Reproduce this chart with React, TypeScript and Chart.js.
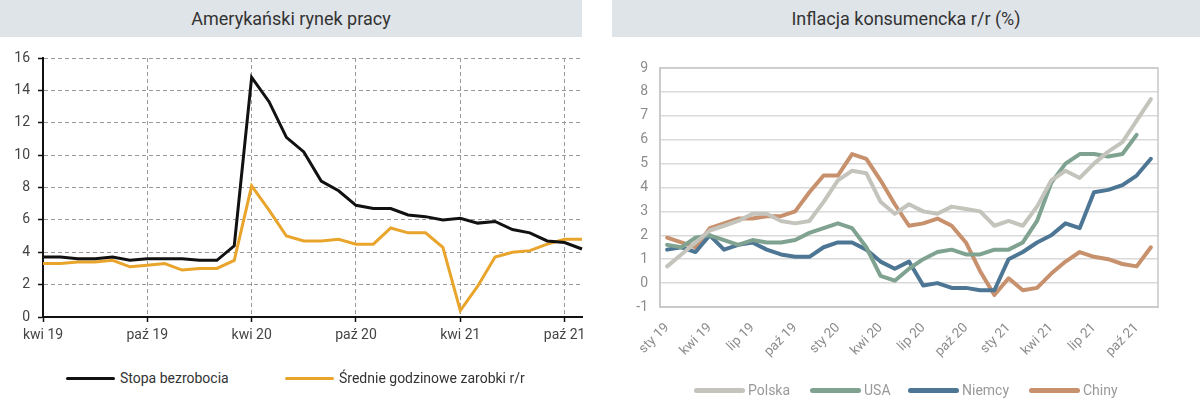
import React, { useEffect, useRef } from "react";
import { Chart, registerables } from "chart.js";

Chart.register(...registerables);

// ---------- Left chart data (Apr 2019 – Nov 2021) ----------
const leftLabels = [
  "kwi 19", "maj 19", "cze 19", "lip 19", "sie 19", "wrz 19", "paź 19", "lis 19", "gru 19",
  "sty 20", "lut 20", "mar 20", "kwi 20", "maj 20", "cze 20", "lip 20", "sie 20", "wrz 20",
  "paź 20", "lis 20", "gru 20", "sty 21", "lut 21", "mar 21", "kwi 21", "maj 21", "cze 21",
  "lip 21", "sie 21", "wrz 21", "paź 21", "lis 21",
];
const unemployment = [
  3.7, 3.7, 3.6, 3.6, 3.7, 3.5, 3.6, 3.6, 3.6, 3.5, 3.5, 4.4, 14.8, 13.3, 11.1, 10.2, 8.4, 7.8,
  6.9, 6.7, 6.7, 6.3, 6.2, 6.0, 6.1, 5.8, 5.9, 5.4, 5.2, 4.7, 4.6, 4.2,
];
const earnings = [
  3.3, 3.3, 3.4, 3.4, 3.5, 3.1, 3.2, 3.3, 2.9, 3.0, 3.0, 3.5, 8.1, 6.6, 5.0, 4.7, 4.7, 4.8,
  4.5, 4.5, 5.5, 5.2, 5.2, 4.3, 0.4, 1.9, 3.7, 4.0, 4.1, 4.5, 4.8, 4.8,
];
const leftTitle = "Amerykański rynek pracy";
const leftSeriesNames = ["Stopa bezrobocia", "Średnie godzinowe zarobki r/r"];

// ---------- Right chart data (Jan 2019 – Nov 2021) ----------
const rightLabels = [
  "sty 19", "lut 19", "mar 19", "kwi 19", "maj 19", "cze 19", "lip 19", "sie 19", "wrz 19",
  "paź 19", "lis 19", "gru 19", "sty 20", "lut 20", "mar 20", "kwi 20", "maj 20", "cze 20",
  "lip 20", "sie 20", "wrz 20", "paź 20", "lis 20", "gru 20", "sty 21", "lut 21", "mar 21",
  "kwi 21", "maj 21", "cze 21", "lip 21", "sie 21", "wrz 21", "paź 21", "lis 21",
];
const polska = [
  0.7, 1.2, 1.7, 2.2, 2.4, 2.6, 2.9, 2.9, 2.6, 2.5, 2.6, 3.4, 4.3, 4.7, 4.6, 3.4, 2.9, 3.3,
  3.0, 2.9, 3.2, 3.1, 3.0, 2.4, 2.6, 2.4, 3.2, 4.3, 4.7, 4.4, 5.0, 5.5, 5.9, 6.8, 7.7,
];
const usa = [
  1.6, 1.5, 1.9, 2.0, 1.8, 1.6, 1.8, 1.7, 1.7, 1.8, 2.1, 2.3, 2.5, 2.3, 1.5, 0.3, 0.1, 0.6,
  1.0, 1.3, 1.4, 1.2, 1.2, 1.4, 1.4, 1.7, 2.6, 4.2, 5.0, 5.4, 5.4, 5.3, 5.4, 6.2,
];
const niemcy = [
  1.4, 1.5, 1.3, 2.0, 1.4, 1.6, 1.7, 1.4, 1.2, 1.1, 1.1, 1.5, 1.7, 1.7, 1.4, 0.9, 0.6, 0.9,
  -0.1, 0.0, -0.2, -0.2, -0.3, -0.3, 1.0, 1.3, 1.7, 2.0, 2.5, 2.3, 3.8, 3.9, 4.1, 4.5, 5.2,
];
const chiny = [
  1.9, 1.7, 1.5, 2.3, 2.5, 2.7, 2.7, 2.8, 2.8, 3.0, 3.8, 4.5, 4.5, 5.4, 5.2, 4.3, 3.3, 2.4,
  2.5, 2.7, 2.4, 1.7, 0.5, -0.5, 0.2, -0.3, -0.2, 0.4, 0.9, 1.3, 1.1, 1.0, 0.8, 0.7, 1.5,
];
const rightTitle = "Inflacja konsumencka r/r (%)";
const rightSeriesNames = ["Polska", "USA", "Niemcy", "Chiny"];

const leftColors = ["#111111", "#e9a42b"];
const rightColors = ["#c4c4bd", "#7fa291", "#4d7695", "#c8916d"];

const FONT = "Roboto, 'DejaVu Sans', sans-serif";

function LeftChart() {
  const ref = useRef<HTMLCanvasElement>(null);
  useEffect(() => {
    const chart = new Chart(ref.current!, {
      type: "line",
      data: {
        labels: leftLabels,
        datasets: [
          {
            label: leftSeriesNames[0],
            data: unemployment,
            borderColor: leftColors[0],
            backgroundColor: leftColors[0],
            borderWidth: 3,
            pointRadius: 0,
            tension: 0,
          },
          {
            label: leftSeriesNames[1],
            data: earnings,
            borderColor: leftColors[1],
            backgroundColor: leftColors[1],
            borderWidth: 3,
            pointRadius: 0,
            tension: 0,
          },
        ],
      },
      options: {
        animation: false,
        responsive: false,
        devicePixelRatio: 1,
        layout: { padding: { top: 18, right: 18, left: 0, bottom: 0 } },
        plugins: { legend: { display: false }, tooltip: { enabled: false } },
        scales: {
          x: {
            type: "category",
            offset: false,
            afterFit: (s: any) => {
              s.height = 33;
            },
            grid: {
              color: "#9a9a9a",
              lineWidth: 1,
              drawTicks: true,
              tickLength: 5,
              tickColor: "#111",
              tickWidth: 1.5,
              tickBorderDash: [],
            },
            border: { display: true, color: "#111", width: 2, dash: [4, 3] },
            ticks: {
              autoSkip: false,
              maxRotation: 0,
              minRotation: 0,
              padding: 5,
              color: "#444",
              font: { family: FONT, size: 14 },
              callback: (_v: any, i: number) => (i % 6 === 0 ? leftLabels[i] : null),
            },
          },
          y: {
            min: 0,
            max: 16,
            afterFit: (s: any) => {
              s.width = 43;
            },
            grid: {
              color: "#9a9a9a",
              lineWidth: 1,
              drawTicks: true,
              tickLength: 5,
              tickColor: "#111",
              tickWidth: 1.5,
              tickBorderDash: [],
            },
            border: { display: true, color: "#111", width: 2, dash: [4, 3] },
            ticks: {
              stepSize: 2,
              padding: 8,
              color: "#444",
              font: { family: FONT, size: 14 },
            },
          },
        },
      },
    });
    return () => chart.destroy();
  }, []);
  return <canvas ref={ref} width={600} height={310} style={{ position: "absolute", left: 0, top: 40 }} />;
}

const framePlugin = {
  id: "frame",
  afterDraw(chart: any) {
    const { ctx, chartArea } = chart;
    ctx.save();
    ctx.strokeStyle = "#c8c8c8";
    ctx.lineWidth = 1.5;
    ctx.strokeRect(chartArea.left, chartArea.top, chartArea.right - chartArea.left, chartArea.bottom - chartArea.top);
    ctx.restore();
  },
};

function RightChart() {
  const ref = useRef<HTMLCanvasElement>(null);
  useEffect(() => {
    const series = [polska, usa, niemcy, chiny];
    const chart = new Chart(ref.current!, {
      type: "line",
      data: {
        labels: rightLabels,
        datasets: series.map((d, i) => ({
          label: rightSeriesNames[i],
          data: d,
          borderColor: rightColors[i],
          backgroundColor: rightColors[i],
          borderWidth: 4,
          pointRadius: 0,
          tension: 0,
          borderJoinStyle: "round" as const,
          borderCapStyle: "round" as const,
        })),
      },
      options: {
        animation: false,
        responsive: false,
        devicePixelRatio: 1,
        layout: { padding: { top: 28, right: 42, left: 0, bottom: 0 } },
        plugins: { legend: { display: false }, tooltip: { enabled: false } },
        scales: {
          x: {
            type: "category",
            offset: true,
            afterFit: (s: any) => {
              s.height = 63;
            },
            grid: { display: false },
            border: { display: true, color: "#c8c8c8", width: 1.5 },
            ticks: {
              autoSkip: false,
              maxRotation: 45,
              minRotation: 45,
              padding: 5,
              color: "#8c8c8c",
              font: { family: FONT, size: 13.5 },
              callback: (_v: any, i: number) => (i % 3 === 0 ? rightLabels[i] : null),
            },
          },
          y: {
            min: -1,
            max: 9,
            afterFit: (s: any) => {
              s.width = 60;
            },
            grid: { color: "#d9d9d9", lineWidth: 1.5, drawTicks: false },
            border: { display: true, color: "#c8c8c8", width: 1.5 },
            ticks: {
              stepSize: 1,
              padding: 12,
              color: "#8c8c8c",
              font: { family: FONT, size: 14 },
            },
          },
        },
      },
      plugins: [framePlugin],
    });
    return () => chart.destroy();
  }, []);
  return <canvas ref={ref} width={600} height={330} style={{ position: "absolute", left: 600, top: 40 }} />;
}

const titleStyle: React.CSSProperties = {
  position: "absolute",
  top: 0,
  height: 37,
  lineHeight: "37px",
  background: "#dfe4e8",
  color: "#333",
  textAlign: "center",
  fontFamily: FONT,
  fontSize: 18,
};

function LegendItem({ color, text, x, y, w, h, textColor, gap, size }: any) {
  return (
    <div style={{ position: "absolute", left: x, top: y - 10, height: 20, display: "flex", alignItems: "center", whiteSpace: "nowrap" }}>
      <div style={{ width: w, height: h, background: color, borderRadius: h / 2 }} />
      <span style={{ marginLeft: gap, color: textColor, fontFamily: FONT, fontSize: size }}>{text}</span>
    </div>
  );
}

export default function App() {
  return (
    <div style={{ position: "absolute", left: 0, top: 0, width: 1200, height: 411, background: "#fff", overflow: "hidden" }}>
      <div style={{ ...titleStyle, left: 0, width: 582 }}>{leftTitle}</div>
      <div style={{ ...titleStyle, left: 612, width: 588 }}>{rightTitle}</div>
      <LeftChart />
      <RightChart />
      <LegendItem color={leftColors[0]} text={leftSeriesNames[0]} x={66} y={378} w={49} h={3} textColor="#333" gap={5} size={14} />
      <LegendItem color={leftColors[1]} text={leftSeriesNames[1]} x={285} y={378} w={49} h={3} textColor="#333" gap={5} size={14} />
      <LegendItem color={rightColors[0]} text={rightSeriesNames[0]} x={694} y={390} w={51} h={5} textColor="#999" gap={3} size={14} />
      <LegendItem color={rightColors[1]} text={rightSeriesNames[1]} x={810} y={390} w={51} h={5} textColor="#999" gap={3} size={14} />
      <LegendItem color={rightColors[2]} text={rightSeriesNames[2]} x={908} y={390} w={51} h={5} textColor="#999" gap={3} size={14} />
      <LegendItem color={rightColors[3]} text={rightSeriesNames[3]} x={1029} y={390} w={51} h={5} textColor="#999" gap={3} size={14} />
    </div>
  );
}
